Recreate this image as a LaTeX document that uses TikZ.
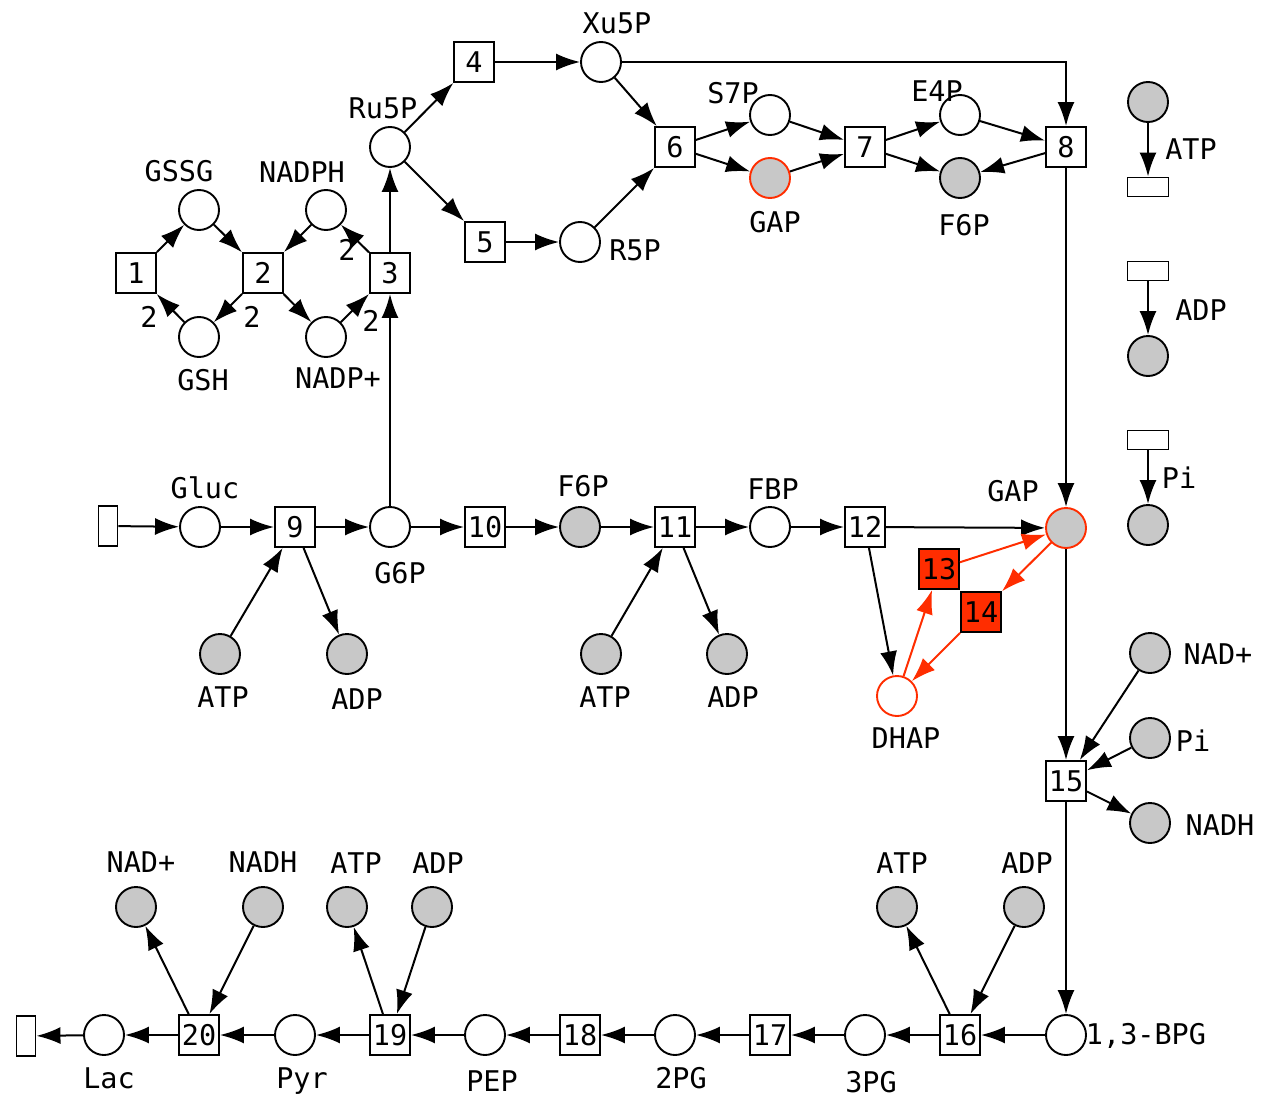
\documentclass[tikz,border=0pt]{standalone}
\usepackage{fontspec}
\setmainfont{DejaVu Sans Mono}
\usetikzlibrary{arrows.meta}
\definecolor{pg}{RGB}{200,200,200}
\definecolor{rd}{RGB}{255,45,0}
\begin{document}
\begin{tikzpicture}[x=1pt,y=-1pt,
  every node/.style={font=\fontsize{28.5}{30}\selectfont},
  pl/.style={circle,draw,line width=1.9pt,minimum size=40pt,inner sep=0pt},
  gp/.style={pl,fill=pg},
  tr/.style={rectangle,draw,line width=1.9pt,minimum size=40pt,inner sep=0pt},
  hrect/.style={rectangle,draw,line width=1.9pt,minimum width=41pt,minimum height=19pt,inner sep=0pt},
  vrect/.style={rectangle,draw,line width=1.9pt,minimum width=19pt,minimum height=40pt,inner sep=0pt},
  lbl/.style={inner sep=0pt,text height=20pt,text depth=0pt},
  arc/.style={line width=2pt,-{Latex[length=24pt,width=17pt]}},
  rarc/.style={arc,draw=rd}
]
\useasboundingbox (0,0) rectangle (1263,1097);

% ---- glutathione / NADPH cycle
\node[tr] (t1) at (136,273) {1};
\node[pl] (gssg) at (199,210) {};
\node[pl] (gsh) at (199,337) {};
\node[tr] (t2) at (263,273) {2};
\node[pl] (nadph) at (326,210) {};
\node[pl] (nadpp) at (326,337) {};
\node[tr] (t3) at (390,273) {3};
\node[lbl] (lgssg) at (179,171) {GSSG};
\node[lbl] (lgsh) at (203,380) {GSH};
\node[lbl] (lnadph) at (302,172) {NADPH};
\node[lbl] (lnadpp) at (338,378) {NADP+};
\node[lbl] (w1) at (149,317) {2};
\node[lbl] (w2) at (252,317) {2};
\node[lbl] (w3) at (347,250) {2};
\node[lbl] (w4) at (371,321) {2};

% ---- pentose phosphate
\node[pl] (ru5p) at (390,147) {};
\node[tr] (t4) at (474,62) {4};
\node[pl] (xu5p) at (601,62) {};
\node[tr] (t5) at (485,242) {5};
\node[pl] (r5p) at (580,242) {};
\node[tr] (t6) at (675,147) {6};
\node[pl] (s7p) at (770,115) {};
\node[gp,draw=rd] (gapt) at (770,178) {};
\node[tr] (t7) at (865,147) {7};
\node[pl] (e4p) at (960,115) {};
\node[gp] (f6pt) at (960,178) {};
\node[tr] (t8) at (1066,147) {8};
\node[lbl] (lru5p) at (383,109) {Ru5P};
\node[lbl] (lxu5p) at (617,24) {Xu5P};
\node[lbl] (lr5p) at (635,250) {R5P};
\node[lbl] (ls7p) at (733,94) {S7P};
\node[lbl] (lgapt) at (775,222) {GAP};
\node[lbl] (le4p) at (937,92) {E4P};
\node[lbl] (lf6pt) at (964,225) {F6P};

% ---- right column
\node[gp] (atpr) at (1148,102) {};
\node[hrect] (atpt) at (1148,187) {};
\node[hrect] (adpt) at (1148,271) {};
\node[gp] (adpr) at (1148,356) {};
\node[hrect] (pit) at (1148,440) {};
\node[gp] (pir) at (1148,525) {};
\node[lbl] (latpr) at (1191,150) {ATP};
\node[lbl] (ladpr) at (1201,310) {ADP};
\node[lbl] (lpir) at (1179,478) {Pi};

% ---- upper glycolysis
\node[vrect] (src) at (108,526) {};
\node[pl] (gluc) at (200,527) {};
\node[tr] (t9) at (295,527) {9};
\node[gp] (atp9) at (220,654) {};
\node[gp] (adp9) at (347,654) {};
\node[pl] (g6p) at (390,527) {};
\node[tr] (t10) at (485,527) {10};
\node[gp] (f6pm) at (580,527) {};
\node[tr] (t11) at (675,527) {11};
\node[gp] (atp11) at (601,654) {};
\node[gp] (adp11) at (727,654) {};
\node[pl] (fbp) at (770,527) {};
\node[tr] (t12) at (865,527) {12};
\node[gp,draw=rd] (gapm) at (1066,528) {};
\node[tr,fill=rd] (t13) at (939,569) {13};
\node[tr,fill=rd] (t14) at (981,612) {14};
\node[pl,draw=rd] (dhap) at (897,696) {};
\node[lbl] (lgluc) at (205,488) {Gluc};
\node[lbl] (lg6p) at (400,573) {G6P};
\node[lbl] (latp9) at (223,697) {ATP};
\node[lbl] (ladp9) at (357,699) {ADP};
\node[lbl] (lf6pm) at (583,486) {F6P};
\node[lbl] (lfbp) at (773,489) {FBP};
\node[lbl] (latp11) at (605,697) {ATP};
\node[lbl] (ladp11) at (733,697) {ADP};
\node[lbl] (lgapm) at (1013,491) {GAP};
\node[lbl] (ldhap) at (906,738) {DHAP};

% ---- GAP dehydrogenase
\node[tr] (t15) at (1066,781) {15};
\node[gp] (nadr) at (1150,653) {};
\node[gp] (pim) at (1150,738) {};
\node[gp] (nadhr) at (1150,823) {};
\node[lbl] (lnadr) at (1218,654) {NAD+};
\node[lbl] (lpim) at (1193,741) {Pi};
\node[lbl] (lnadhr) at (1220,825) {NADH};

% ---- lower glycolysis
\node[pl] (bpg) at (1066,1035) {};
\node[tr] (t16) at (960,1035) {16};
\node[gp] (atp16) at (897,907) {};
\node[gp] (adp16) at (1024,907) {};
\node[pl] (pg3) at (865,1035) {};
\node[tr] (t17) at (770,1035) {17};
\node[pl] (pg2) at (675,1035) {};
\node[tr] (t18) at (580,1035) {18};
\node[pl] (pep) at (485,1035) {};
\node[tr] (t19) at (390,1035) {19};
\node[gp] (atp19) at (347,907) {};
\node[gp] (adp19) at (432,907) {};
\node[pl] (pyr) at (295,1035) {};
\node[tr] (t20) at (199,1035) {20};
\node[gp] (nad20) at (136,907) {};
\node[gp] (nadh20) at (263,907) {};
\node[pl] (lac) at (104,1035) {};
\node[vrect] (snk) at (26,1036) {};
\node[lbl] (lbpg) at (1146,1034) {1,3-BPG};
\node[lbl] (latp16) at (902,863) {ATP};
\node[lbl] (ladp16) at (1027,863) {ADP};
\node[lbl] (l3pg) at (871,1082) {3PG};
\node[lbl] (l2pg) at (681,1078) {2PG};
\node[lbl] (lpep) at (492,1081) {PEP};
\node[lbl] (latp19) at (356,863) {ATP};
\node[lbl] (ladp19) at (438,863) {ADP};
\node[lbl] (lnad20) at (141,862) {NAD+};
\node[lbl] (lnadh20) at (263,862) {NADH};
\node[lbl] (lpyr) at (302,1078) {Pyr};
\node[lbl] (llac) at (109,1078) {Lac};

% ---- arcs: cycle
\draw[arc] (t1) -- (gssg);
\draw[arc] (gsh) -- (t1);
\draw[arc] (gssg) -- (t2);
\draw[arc] (t2) -- (gsh);
\draw[arc] (nadph) -- (t2);
\draw[arc] (t2) -- (nadpp);
\draw[arc] (nadpp) -- (t3);
\draw[arc] (t3) -- (nadph);
\draw[arc] (g6p) -- (t3);
\draw[arc] (t3) -- (ru5p);

% ---- arcs: pentose phosphate
\draw[arc] (ru5p) -- (t4);
\draw[arc] (ru5p) -- (t5);
\draw[arc] (t4) -- (xu5p);
\draw[arc] (t5) -- (r5p);
\draw[arc] (xu5p) -- (t6);
\draw[arc] (r5p) -- (t6);
\draw[arc] (xu5p) -| (t8);
\draw[arc] (t6) -- (s7p);
\draw[arc] (t6) -- (gapt);
\draw[arc] (s7p) -- (t7);
\draw[arc] (gapt) -- (t7);
\draw[arc] (t7) -- (e4p);
\draw[arc] (t7) -- (f6pt);
\draw[arc] (e4p) -- (t8);
\draw[arc] (t8) -- (f6pt);
\draw[arc] (t8) -- (gapm);

% ---- arcs: right column
\draw[arc] (atpr) -- (atpt);
\draw[arc] (adpt) -- (adpr);
\draw[arc] (pit) -- (pir);

% ---- arcs: upper glycolysis
\draw[arc] (src) -- (gluc);
\draw[arc] (gluc) -- (t9);
\draw[arc] (atp9) -- (t9);
\draw[arc] (t9) -- (adp9);
\draw[arc] (t9) -- (g6p);
\draw[arc] (g6p) -- (t10);
\draw[arc] (t10) -- (f6pm);
\draw[arc] (f6pm) -- (t11);
\draw[arc] (atp11) -- (t11);
\draw[arc] (t11) -- (adp11);
\draw[arc] (t11) -- (fbp);
\draw[arc] (fbp) -- (t12);
\draw[arc] (t12) -- (gapm);
\draw[arc] (t12) -- (dhap);
\draw[rarc] (dhap) -- (t13);
\draw[rarc] (t13) -- (gapm);
\draw[rarc] (gapm) -- (t14);
\draw[rarc] (t14) -- (dhap);

% ---- arcs: GAP dehydrogenase
\draw[arc] (gapm) -- (t15);
\draw[arc] (nadr) -- (t15);
\draw[arc] (pim) -- (t15);
\draw[arc] (t15) -- (nadhr);
\draw[arc] (t15) -- (bpg);

% ---- arcs: lower glycolysis
\draw[arc] (bpg) -- (t16);
\draw[arc] (adp16) -- (t16);
\draw[arc] (t16) -- (atp16);
\draw[arc] (t16) -- (pg3);
\draw[arc] (pg3) -- (t17);
\draw[arc] (t17) -- (pg2);
\draw[arc] (pg2) -- (t18);
\draw[arc] (t18) -- (pep);
\draw[arc] (pep) -- (t19);
\draw[arc] (adp19) -- (t19);
\draw[arc] (t19) -- (atp19);
\draw[arc] (t19) -- (pyr);
\draw[arc] (pyr) -- (t20);
\draw[arc] (nadh20) -- (t20);
\draw[arc] (t20) -- (nad20);
\draw[arc] (t20) -- (lac);
\draw[arc] (lac) -- (snk);
\end{tikzpicture}
\end{document}
